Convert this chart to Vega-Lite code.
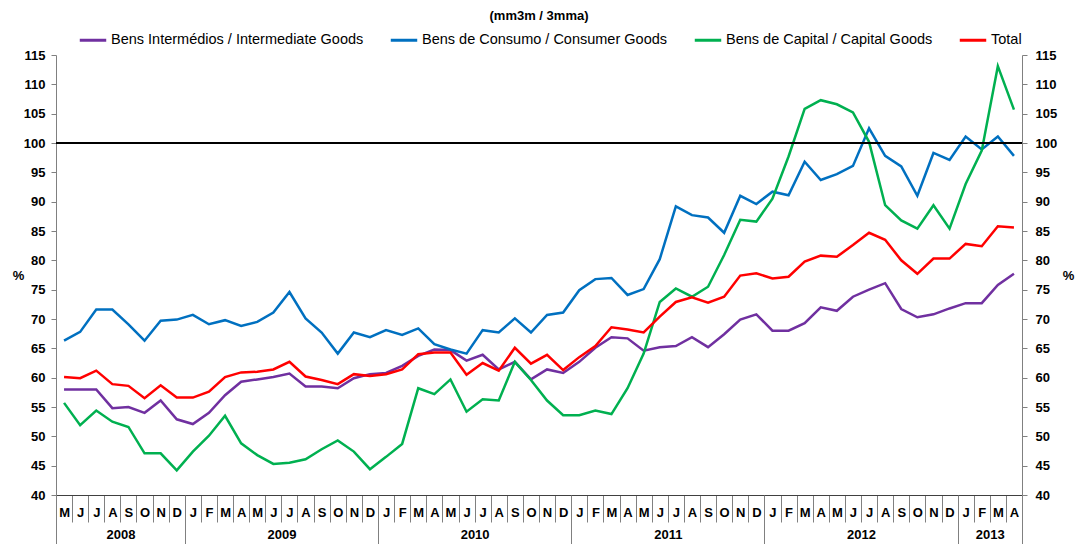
{
  "$schema": "https://vega.github.io/schema/vega-lite/v6.json",
  "width": 966,
  "height": 440,
  "autosize": "none",
  "padding": {"left": 56, "top": 55, "right": 53, "bottom": 49},
  "background": "white",
  "title": {"text": "(mm3m / 3mma)", "font": "Arial", "fontSize": 13, "fontWeight": "bold", "color": "black", "anchor": "middle", "frame": "group", "offset": 2},
  "config": {
    "view": {"stroke": null},
    "axis": {"labelFont": "Arial", "labelFontWeight": "bold", "labelFontSize": 13, "labelColor": "black", "grid": false, "domainColor": "#808080", "tickColor": "#808080", "titleFont": "Arial", "titleFontWeight": "bold", "titleFontSize": 13, "titleColor": "black"}
  },
  "data": {"values": [
    {"d": "2008-05", "BI": 58.0, "BC": 66.3, "BK": 55.7, "T": 60.1},
    {"d": "2008-06", "BI": 58.0, "BC": 67.8, "BK": 51.9, "T": 59.9},
    {"d": "2008-07", "BI": 58.0, "BC": 71.6, "BK": 54.4, "T": 61.2},
    {"d": "2008-08", "BI": 54.8, "BC": 71.6, "BK": 52.5, "T": 58.9},
    {"d": "2008-09", "BI": 55.0, "BC": 69.1, "BK": 51.6, "T": 58.6},
    {"d": "2008-10", "BI": 54.0, "BC": 66.3, "BK": 47.1, "T": 56.5},
    {"d": "2008-11", "BI": 56.1, "BC": 69.7, "BK": 47.1, "T": 58.7},
    {"d": "2008-12", "BI": 52.9, "BC": 69.9, "BK": 44.2, "T": 56.6},
    {"d": "2009-01", "BI": 52.1, "BC": 70.7, "BK": 47.4, "T": 56.6},
    {"d": "2009-02", "BI": 54.0, "BC": 69.1, "BK": 50.1, "T": 57.6},
    {"d": "2009-03", "BI": 57.0, "BC": 69.8, "BK": 53.5, "T": 60.1},
    {"d": "2009-04", "BI": 59.3, "BC": 68.8, "BK": 48.8, "T": 60.9},
    {"d": "2009-05", "BI": 59.7, "BC": 69.5, "BK": 46.8, "T": 61.0},
    {"d": "2009-06", "BI": 60.1, "BC": 71.1, "BK": 45.3, "T": 61.4},
    {"d": "2009-07", "BI": 60.7, "BC": 74.6, "BK": 45.5, "T": 62.7},
    {"d": "2009-08", "BI": 58.5, "BC": 70.1, "BK": 46.1, "T": 60.2},
    {"d": "2009-09", "BI": 58.5, "BC": 67.7, "BK": 47.8, "T": 59.6},
    {"d": "2009-10", "BI": 58.2, "BC": 64.1, "BK": 49.3, "T": 58.9},
    {"d": "2009-11", "BI": 59.9, "BC": 67.7, "BK": 47.4, "T": 60.6},
    {"d": "2009-12", "BI": 60.6, "BC": 66.9, "BK": 44.4, "T": 60.3},
    {"d": "2010-01", "BI": 60.8, "BC": 68.1, "BK": 46.5, "T": 60.6},
    {"d": "2010-02", "BI": 62.0, "BC": 67.3, "BK": 48.7, "T": 61.4},
    {"d": "2010-03", "BI": 63.7, "BC": 68.4, "BK": 58.2, "T": 64.0},
    {"d": "2010-04", "BI": 64.8, "BC": 65.7, "BK": 57.2, "T": 64.3},
    {"d": "2010-05", "BI": 64.7, "BC": 64.8, "BK": 59.7, "T": 64.3},
    {"d": "2010-06", "BI": 62.9, "BC": 64.1, "BK": 54.2, "T": 60.5},
    {"d": "2010-07", "BI": 63.9, "BC": 68.1, "BK": 56.3, "T": 62.5},
    {"d": "2010-08", "BI": 61.4, "BC": 67.7, "BK": 56.1, "T": 61.2},
    {"d": "2010-09", "BI": 62.7, "BC": 70.1, "BK": 62.7, "T": 65.1},
    {"d": "2010-10", "BI": 59.7, "BC": 67.7, "BK": 59.6, "T": 62.4},
    {"d": "2010-11", "BI": 61.4, "BC": 70.7, "BK": 56.1, "T": 63.9},
    {"d": "2010-12", "BI": 60.8, "BC": 71.1, "BK": 53.6, "T": 61.3},
    {"d": "2011-01", "BI": 62.7, "BC": 74.9, "BK": 53.6, "T": 63.5},
    {"d": "2011-02", "BI": 65.1, "BC": 76.8, "BK": 54.4, "T": 65.4},
    {"d": "2011-03", "BI": 66.9, "BC": 77.0, "BK": 53.8, "T": 68.6},
    {"d": "2011-04", "BI": 66.7, "BC": 74.1, "BK": 58.2, "T": 68.2},
    {"d": "2011-05", "BI": 64.6, "BC": 75.1, "BK": 64.1, "T": 67.7},
    {"d": "2011-06", "BI": 65.2, "BC": 80.2, "BK": 72.9, "T": 70.4},
    {"d": "2011-07", "BI": 65.4, "BC": 89.2, "BK": 75.2, "T": 72.9},
    {"d": "2011-08", "BI": 66.9, "BC": 87.7, "BK": 73.8, "T": 73.7},
    {"d": "2011-09", "BI": 65.2, "BC": 87.3, "BK": 75.5, "T": 72.8},
    {"d": "2011-10", "BI": 67.4, "BC": 84.7, "BK": 80.9, "T": 73.8},
    {"d": "2011-11", "BI": 69.9, "BC": 91.0, "BK": 86.9, "T": 77.4},
    {"d": "2011-12", "BI": 70.8, "BC": 89.6, "BK": 86.6, "T": 77.8},
    {"d": "2012-01", "BI": 68.0, "BC": 91.7, "BK": 90.5, "T": 76.9},
    {"d": "2012-02", "BI": 68.0, "BC": 91.1, "BK": 97.7, "T": 77.2},
    {"d": "2012-03", "BI": 69.3, "BC": 96.8, "BK": 105.8, "T": 79.8},
    {"d": "2012-04", "BI": 72.0, "BC": 93.7, "BK": 107.3, "T": 80.8},
    {"d": "2012-05", "BI": 71.4, "BC": 94.7, "BK": 106.6, "T": 80.6},
    {"d": "2012-06", "BI": 73.8, "BC": 96.1, "BK": 105.2, "T": 82.6},
    {"d": "2012-07", "BI": 75.0, "BC": 102.5, "BK": 100.2, "T": 84.7},
    {"d": "2012-08", "BI": 76.1, "BC": 97.8, "BK": 89.4, "T": 83.5},
    {"d": "2012-09", "BI": 71.7, "BC": 96.0, "BK": 86.8, "T": 80.0},
    {"d": "2012-10", "BI": 70.3, "BC": 91.0, "BK": 85.4, "T": 77.7},
    {"d": "2012-11", "BI": 70.8, "BC": 98.3, "BK": 89.4, "T": 80.3},
    {"d": "2012-12", "BI": 71.8, "BC": 97.1, "BK": 85.4, "T": 80.3},
    {"d": "2013-01", "BI": 72.7, "BC": 101.1, "BK": 93.0, "T": 82.8},
    {"d": "2013-02", "BI": 72.7, "BC": 98.9, "BK": 98.7, "T": 82.4},
    {"d": "2013-03", "BI": 75.8, "BC": 101.1, "BK": 113.1, "T": 85.8},
    {"d": "2013-04", "BI": 77.7, "BC": 97.8, "BK": 105.7, "T": 85.6}
  ]},
  "transform": [{"fold": ["BI", "BC", "BK", "T"], "as": ["series", "val"]}],
  "layer": [
    {
      "mark": {"type": "line", "strokeWidth": 2.5},
      "encoding": {
        "x": {"field": "d", "type": "ordinal", "scale": {"padding": 0.5},
          "axis": {"orient": "bottom", "tickOffset": -8.05, "labelOffset": 8.05, "tickSize": 27, "labelPadding": -16, "labelAngle": 0, "domainColor": "#404040",
            "labelExpr": "['J','F','M','A','M','J','J','A','S','O','N','D'][toNumber(slice(datum.value, 5, 7)) - 1]", "title": null}},
        "y": {"field": "val", "type": "quantitative",
          "scale": {"domain": [40, 115], "nice": false, "zero": false},
          "axis": {"orient": "left", "values": [40,45,50,55,60,65,70,75,80,85,90,95,100,105,110,115], "tickSize": 5, "labelPadding": 6,
            "title": "%", "titleAngle": 0, "titleX": -38, "titleY": 220, "titleAlign": "center", "titleBaseline": "middle"}},
        "color": {"field": "series", "type": "nominal",
          "scale": {"domain": ["BI", "BC", "BK", "T"], "range": ["#7030A0", "#0070C0", "#00B050", "#FF0000"]},
          "legend": {"orient": "none", "legendX": 22, "legendY": -30, "direction": "horizontal", "title": null,
            "symbolType": "stroke", "symbolSize": 700, "symbolStrokeWidth": 3, "labelOffset": 3,
            "labelFont": "Arial", "labelFontSize": 14.5, "labelColor": "black", "labelLimit": 400, "columnPadding": 20,
            "labelExpr": "datum.value == 'BI' ? 'Bens Intermédios / Intermediate Goods' : datum.value == 'BC' ? 'Bens de Consumo / Consumer Goods' : datum.value == 'BK' ? 'Bens de Capital / Capital Goods' : 'Total'"}}
      }
    },
    {
      "data": {"values": [{"ref": 100}]},
      "mark": {"type": "rule", "color": "black", "strokeWidth": 2},
      "encoding": {"y": {"field": "ref", "type": "quantitative", "axis": null}}
    },
    {
      "mark": {"type": "point", "opacity": 0},
      "encoding": {
        "x": {"field": "d", "type": "ordinal", "axis": null},
        "y": {"field": "val", "type": "quantitative",
          "axis": {"orient": "right", "values": [40,45,50,55,60,65,70,75,80,85,90,95,100,105,110,115], "tickSize": 5, "labelPadding": 8,
            "title": "%", "titleAngle": 0, "titleX": 46, "titleY": 220, "titleAlign": "center", "titleBaseline": "middle"}}
      }
    },
    {
      "mark": {"type": "point", "opacity": 0},
      "encoding": {
        "x": {"field": "d", "type": "ordinal",
          "axis": {"orient": "bottom", "values": ["2008-05", "2009-01", "2010-01", "2011-01", "2012-01", "2013-01"],
            "tickOffset": -8.05, "tickSize": 49, "labels": false, "domain": false, "title": null}},
        "y": {"field": "val", "type": "quantitative", "axis": null}
      }
    },
    {
      "mark": {"type": "point", "opacity": 0},
      "encoding": {
        "x": {"field": "d", "type": "ordinal",
          "axis": {"orient": "bottom", "values": ["2013-04"],
            "tickOffset": 8.05, "tickSize": 49, "labels": false, "domain": false, "title": null}},
        "y": {"field": "val", "type": "quantitative", "axis": null}
      }
    },
    {
      "mark": {"type": "point", "opacity": 0},
      "encoding": {
        "x": {"field": "d", "type": "ordinal",
          "axis": {"orient": "bottom", "values": ["2008-08", "2009-06", "2010-06", "2011-06", "2012-06", "2013-02"],
            "ticks": false, "tickSize": 0, "domain": false, "labelOffset": 8.05, "labelPadding": 33, "labelAngle": 0, "title": null,
            "labelExpr": "slice(datum.value, 0, 4)"}},
        "y": {"field": "val", "type": "quantitative", "axis": null}
      }
    }
  ],
  "resolve": {"axis": {"x": "independent", "y": "independent"}}
}
